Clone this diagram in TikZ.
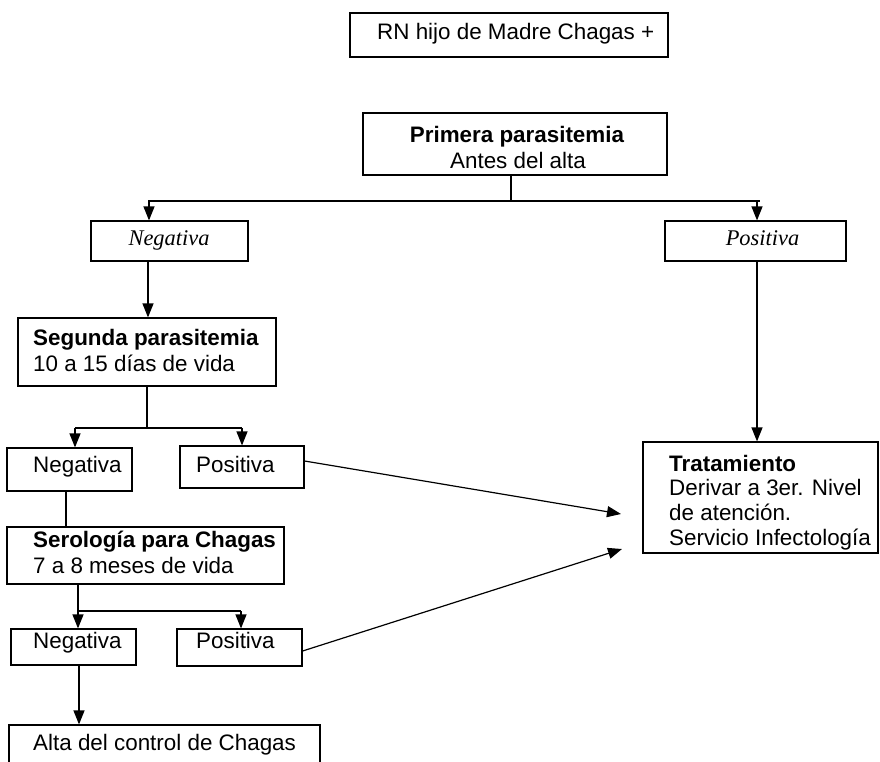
\documentclass[tikz,border=0pt]{standalone}
\usepackage{fontspec}
\setmainfont{Liberation Sans}
\newfontfamily\serifit{Liberation Serif}
\usetikzlibrary{arrows.meta}
\begin{document}
\begin{tikzpicture}[x=1pt,y=-1pt,
  bx/.style={draw, line width=1.2pt, inner sep=0pt},
  tx/.style={inner sep=0pt, font=\fontsize{22.4}{25}\selectfont},
  ln/.style={line width=1.2pt},
  arr/.style={line width=1.2pt, -{Triangle[length=14pt,width=11pt]}}]
\fill[white] (0,0) rectangle (880,762);
\useasboundingbox (0,0) rectangle (880,762);
\clip (0,0) rectangle (880,762);
% boxes
\node[bx, minimum width=318pt, minimum height=44pt] (top) at (509,35) {};
\node[bx, minimum width=304pt, minimum height=62pt] (prim) at (515,144) {};
\node[bx, minimum width=157pt, minimum height=40pt] (neg1) at (169.5,241) {};
\node[bx, minimum width=181pt, minimum height=40pt] (pos1) at (755.5,241) {};
\node[bx, minimum width=258pt, minimum height=68pt] (seg) at (147,352) {};
\node[bx, minimum width=125pt, minimum height=43pt] (neg2) at (69.5,469.5) {};
\node[bx, minimum width=124pt, minimum height=42pt] (pos2) at (242,467) {};
\node[bx, minimum width=277pt, minimum height=57pt] (ser) at (145.5,555.5) {};
\node[bx, minimum width=125pt, minimum height=36pt] (neg3) at (73.5,647) {};
\node[bx, minimum width=125pt, minimum height=37pt] (pos3) at (239.5,647.5) {};
\node[bx, minimum width=311pt, minimum height=55pt] (alta) at (164.5,752.5) {};
\node[bx, minimum width=235pt, minimum height=111pt] (trat) at (760.5,497.5) {};
% texts
\node[tx, anchor=base west] (ttop) at (377,40) {RN hijo de Madre Chagas +};
\node[tx, anchor=base, font=\fontsize{22.4}{25}\selectfont\bfseries] (tprim1) at (517,143) {Primera parasitemia};
\node[tx, anchor=base] (tprim2) at (518,168) {Antes del alta};
\node[tx, anchor=base, font=\fontsize{22.4}{25}\selectfont\serifit\itshape] (tneg1) at (169,245) {Negativa};
\node[tx, anchor=base, font=\fontsize{22.4}{25}\selectfont\serifit\itshape] (tpos1) at (762.5,245) {Positiva};
\node[tx, anchor=base west, font=\fontsize{22.4}{25}\selectfont\bfseries] (tseg1) at (33,345) {Segunda parasitemia};
\node[tx, anchor=base west] (tseg2) at (33,371) {10 a 15 días de vida};
\node[tx, anchor=base west] (tneg2) at (33,472) {Negativa};
\node[tx, anchor=base west] (tpos2) at (196,472) {Positiva};
\node[tx, anchor=base west, font=\fontsize{22.4}{25}\selectfont\bfseries] (tser1) at (33,547) {Serología para Chagas};
\node[tx, anchor=base west] (tser2) at (33,573) {7 a 8 meses de vida};
\node[tx, anchor=base west] (tneg3) at (33,648) {Negativa};
\node[tx, anchor=base west] (tpos3) at (196,648) {Positiva};
\node[tx, anchor=base west] (talta) at (33,750) {Alta del control de Chagas};
\node[tx, anchor=base west, font=\fontsize{22.4}{25}\selectfont\bfseries] (ttrat1) at (669,471) {Tratamiento};
\node[tx, anchor=base west] (ttrat2) at (669,495) {Derivar a 3er. Nivel};
\node[tx, anchor=base west] (ttrat3) at (669,520) {de atención.};
\node[tx, anchor=base west] (ttrat4) at (669,545) {Servicio Infectología};
% junction coordinates
\coordinate (j1) at (511,201);
\coordinate (j1l) at (148,201);
\coordinate (j1r) at (760,201);
\coordinate (j2) at (147,428);
\coordinate (j3) at (78,611);
\coordinate (e1) at (621,514);
\coordinate (e2) at (622,549);
% connectors
\draw[ln] (prim.south -| j1) -- (j1);
\draw[ln] (j1l) -- (j1r);
\draw[arr] (149,201) -- (neg1.north -| 149,0);
\draw[arr] (757,201) -- (pos1.north -| 757,0);
\draw[arr] (neg1.south -| 148,0) -- (seg.north -| 148,0);
\draw[arr] (pos1.south -| 757,0) -- (trat.north -| 757,0);
\draw[ln] (seg.south -| j2) -- (j2);
\draw[ln] (75,428) -- (242,428);
\draw[arr] (75,428) -- (neg2.north -| 75,0);
\draw[arr] (242,428) -- (pos2.north -| 242,0);
\draw[ln] (neg2.south -| 66,0) -- (ser.north -| 66,0);
\draw[arr] (ser.south -| j3) -- (neg3.north -| j3);
\draw[ln] (j3) -- (241,611);
\draw[arr] (241,611) -- (pos3.north -| 241,0);
\draw[arr] (neg3.south -| 79,0) -- (alta.north -| 79,0);
\draw[arr] (pos2.east |- 0,461) -- (e1);
\draw[arr] (pos3.east |- 0,651) -- (e2);
\end{tikzpicture}
\end{document}
